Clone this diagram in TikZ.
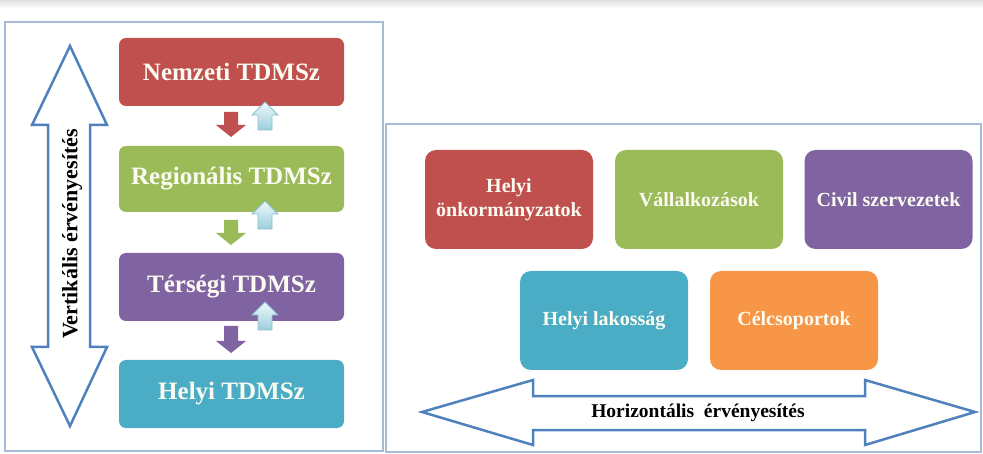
\documentclass[tikz,border=0pt]{standalone}
\usepackage{fontspec}
\setmainfont{Liberation Serif}
\definecolor{cRed}{HTML}{C0504D}
\definecolor{cGreen}{HTML}{9BBB59}
\definecolor{cPurple}{HTML}{8064A2}
\definecolor{cTeal}{HTML}{4BACC6}
\definecolor{cOrange}{HTML}{F79646}
\definecolor{cBlue}{HTML}{4F81BD}
\definecolor{cFrame}{HTML}{A7BBD8}
\definecolor{cTxt}{HTML}{FBFBF2}
\definecolor{cUpTop}{HTML}{EEF8FB}
\definecolor{cUpBot}{HTML}{9CCFDD}
\definecolor{cUpLine}{HTML}{8CBFCC}
\newcommand{\dnarrow}[4]{%
  \fill[#4] (#1-7,#2) -- (#1+7,#2) -- (#1+7,#3-12) -- (#1+15,#3-12) -- (#1,#3)
    -- (#1-15,#3-12) -- (#1-7,#3-12) -- cycle;}
\newcommand{\uparr}[3]{%
  \draw[draw=cUpLine, line width=0.8pt, top color=cUpTop, bottom color=cUpBot]
    (#1,#2) -- (#1+13,#2+13) -- (#1+7,#2+13) -- (#1+7,#3) -- (#1-7,#3)
    -- (#1-7,#2+13) -- (#1-13,#2+13) -- cycle;}
\begin{document}
\begin{tikzpicture}[x=1pt,y=-1pt,
  lbox/.style={rounded corners=7pt, minimum width=225pt, text=cTxt,
    font=\bfseries\fontsize{25}{28}\selectfont, inner sep=0pt},
  rbox/.style={rounded corners=11pt, minimum width=168pt, minimum height=99pt,
    text=cTxt, align=center, font=\bfseries\fontsize{20}{24}\selectfont, inner sep=0pt},
  frame/.style={draw=cFrame, line width=1.5pt},
  dbl/.style={draw=cBlue, fill=white, line width=2.5pt, line join=miter}]
\useasboundingbox (0,0) rectangle (983,454);
\fill[white] (0,0) rectangle (983,454);
\shade[top color=black!12, bottom color=white] (0,0) rectangle (983,9);

% frames
\draw[frame] (5,22) rectangle (383,451);
\draw[frame] (386,124) rectangle (981,452);

% left boxes
\node[lbox, fill=cRed, minimum height=68pt] (nem) at (231.5,72) {Nemzeti TDMSz};
\node[lbox, fill=cGreen, minimum height=66pt] (reg) at (231.5,179) {Regionális TDMSz};
\node[lbox, fill=cPurple, minimum height=68pt] (ter) at (231.5,287) {Térségi TDMSz};
\node[lbox, fill=cTeal, minimum height=68pt] (hel) at (231.5,394) {Helyi TDMSz};

% small arrows between levels
\dnarrow{231}{112}{137}{cRed}
\uparr{265}{102}{130}
\dnarrow{231}{220}{245}{cGreen}
\uparr{265}{201}{229}
\dnarrow{231}{326}{353}{cPurple}
\uparr{265}{302}{330}

% vertical double arrow
\draw[dbl] (70,46) -- (107,125) -- (90,125) -- (90,347) -- (107,347) -- (70,426)
  -- (32,347) -- (48,347) -- (48,125) -- (32,125) -- cycle;
\node[rotate=90, font=\bfseries\fontsize{22}{24}\selectfont] (vlab) at (72,234)
  {Vertikális érvényesítés};

% right boxes
\node[rbox, fill=cRed] (onk) at (509,199.5) {Helyi\\önkormányzatok};
\node[rbox, fill=cGreen] (val) at (699,199.5) {Vállalkozások};
\node[rbox, fill=cPurple] (civ) at (888.5,199.5) {Civil szervezetek};
\node[rbox, fill=cTeal] (lak) at (604,320.5) {Helyi lakosság};
\node[rbox, fill=cOrange] (cel) at (794,320.5) {Célcsoportok};

% horizontal double arrow
\draw[dbl] (422,412) -- (533,380) -- (533,396) -- (865,396) -- (865,380) -- (975,412)
  -- (865,445) -- (865,430) -- (533,430) -- (533,445) -- cycle;
\node[font=\bfseries\fontsize{19.5}{22}\selectfont] (hlab) at (698,413)
  {Horizontális\ \ érvényesítés};
\end{tikzpicture}
\end{document}
